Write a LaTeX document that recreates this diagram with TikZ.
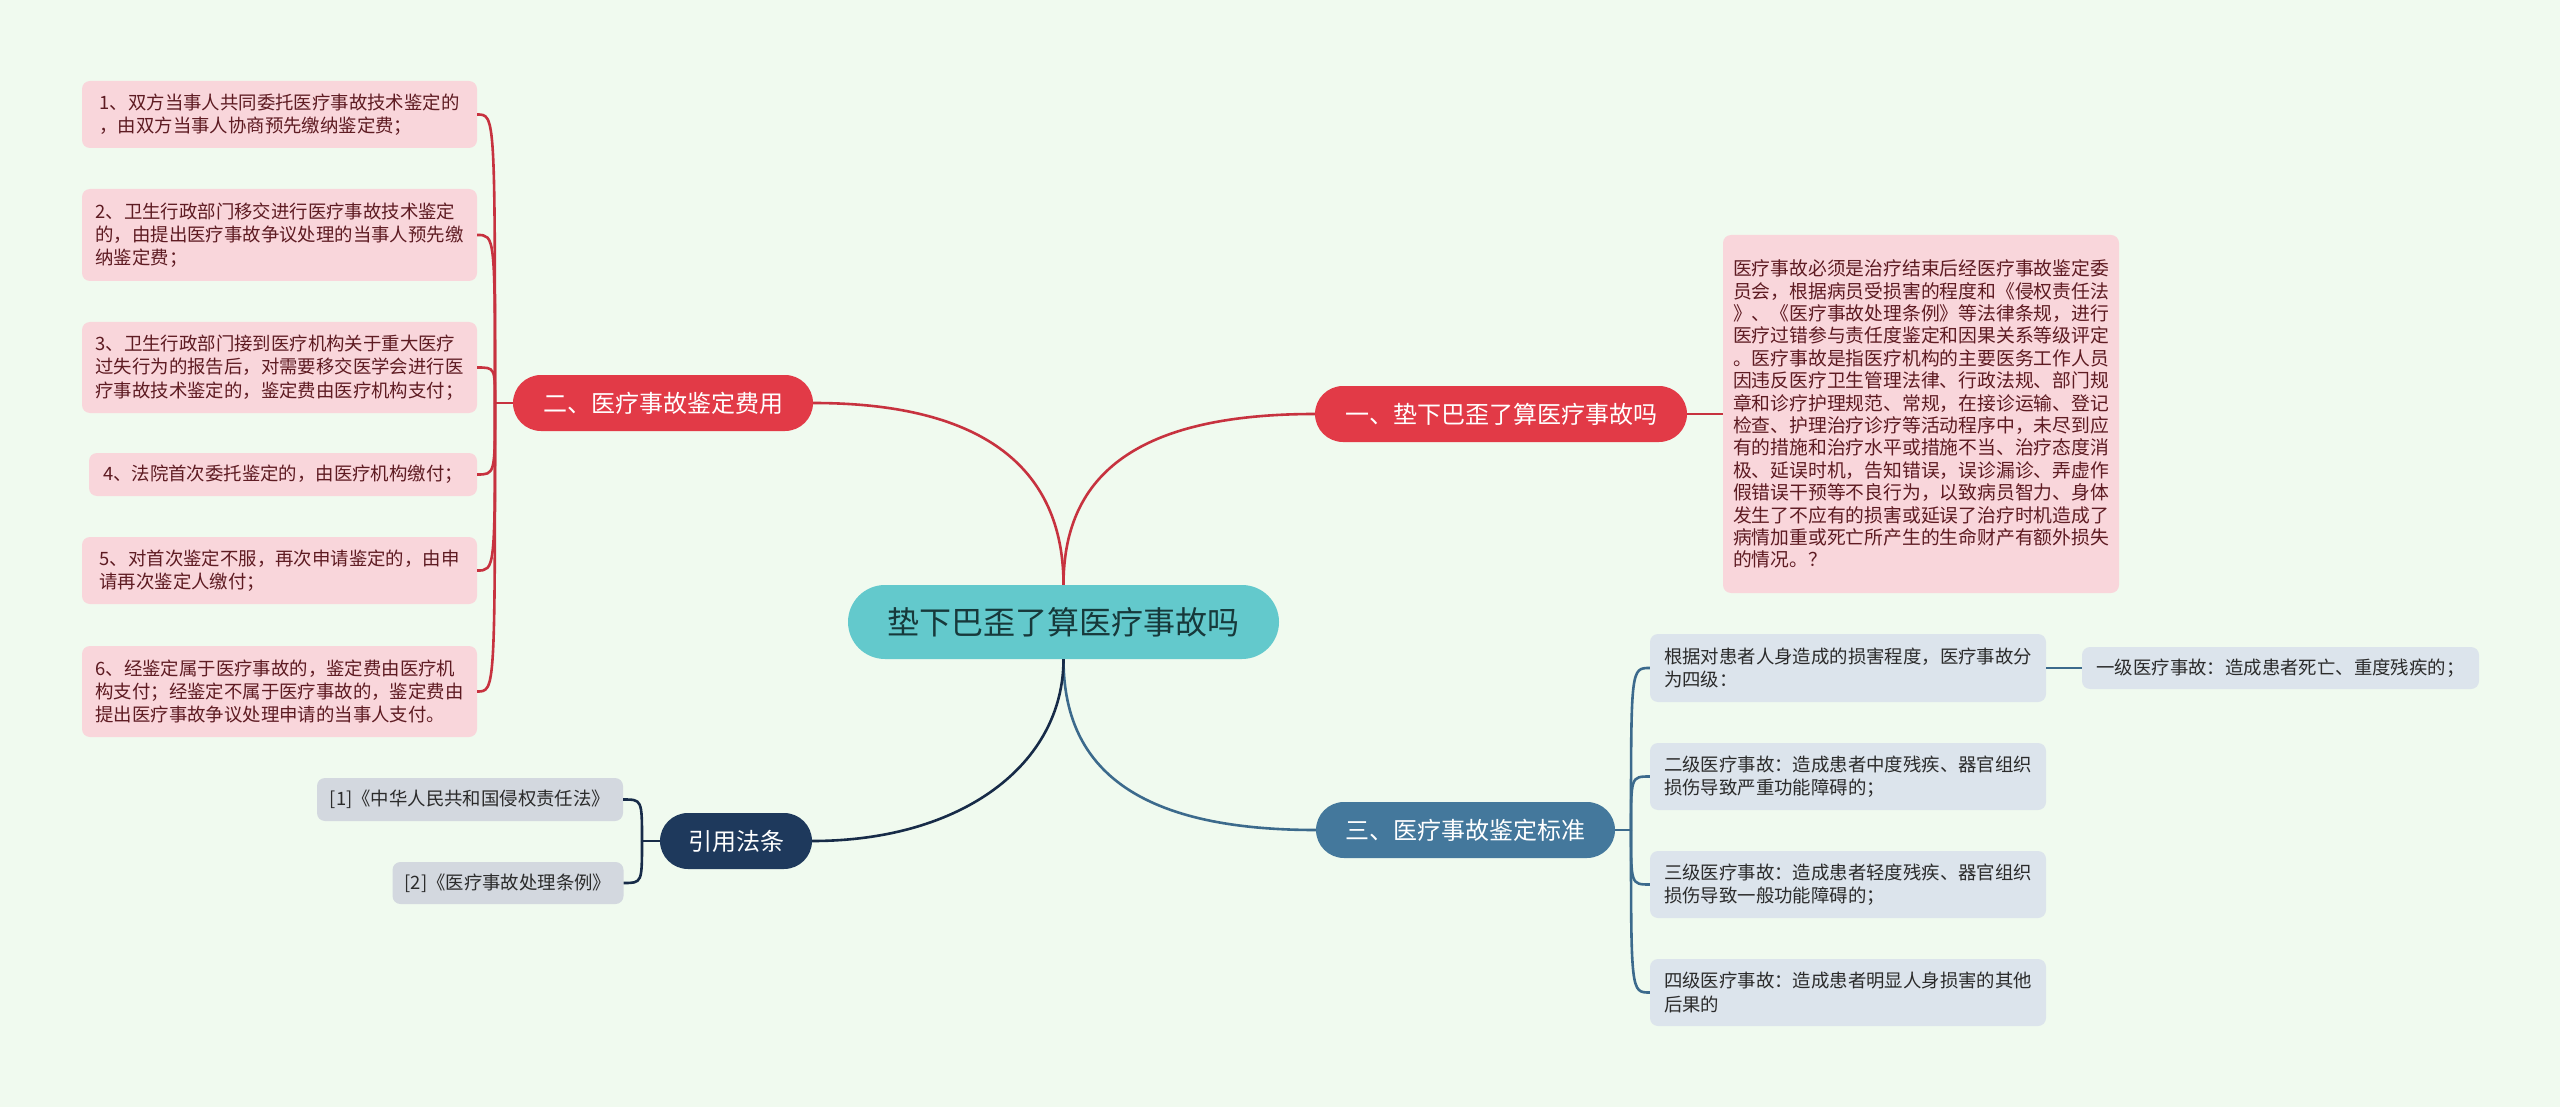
\documentclass[tikz,border=0pt]{standalone}
\usepackage{fontspec}
\setmainfont{Noto Sans CJK SC}
\definecolor{bgcol}{HTML}{F0FAEF}
\definecolor{redline}{HTML}{C7323F}
\definecolor{redfill}{HTML}{E23A47}
\definecolor{pinkfill}{HTML}{F9D6DB}
\definecolor{pinktext}{HTML}{5E1B22}
\definecolor{tealfill}{HTML}{63C9CC}
\definecolor{tealtext}{HTML}{17393B}
\definecolor{steelfill}{HTML}{44789C}
\definecolor{steelline}{HTML}{3C6A8C}
\definecolor{bluebox}{HTML}{DCE4EC}
\definecolor{navyfill}{HTML}{1E395C}
\definecolor{navyline}{HTML}{172B48}
\definecolor{graybox}{HTML}{D3D8DF}
\definecolor{darktext}{HTML}{2B2B2B}
\begin{document}
\begin{tikzpicture}[x=1pt,y=-1pt]
  \tikzset{
    central/.style={fill=tealfill, text=tealtext, rounded corners=37pt, minimum width=431pt, minimum height=74pt, inner sep=0pt, font=\fontsize{32}{36}\selectfont},
    topic/.style={rounded corners=28pt, minimum height=56pt, inner sep=0pt, text=white, font=\fontsize{24}{28}\selectfont},
    redtopic/.style={topic, fill=redfill},
    steeltopic/.style={topic, fill=steelfill},
    navytopic/.style={topic, fill=navyfill},
    leaf/.style={rounded corners=8pt, inner sep=0pt, align=left, font=\fontsize{18.4}{23.3}\selectfont},
    pinkbox/.style={leaf, fill=pinkfill, text=pinktext},
    bluebox/.style={leaf, fill=bluebox, text=darktext},
    graybox/.style={leaf, fill=graybox, text=darktext},
    redlink/.style={draw=redline, line width=2.6pt},
    steellink/.style={draw=steelline, line width=2.6pt},
    navylink/.style={draw=navyline, line width=2.6pt}
  }
  \fill[bgcol] (0,0) rectangle (2560,1107);
  \useasboundingbox (0,0) rectangle (2560,1107);

  % root and main branches
  \node[central] (root) at (1063.5,622) {垫下巴歪了算医疗事故吗};
  \node[redtopic, minimum width=372pt] (yi) at (1501,414) {一、垫下巴歪了算医疗事故吗};
  \node[redtopic, minimum width=300pt] (er) at (663,403) {二、医疗事故鉴定费用};
  \node[steeltopic, minimum width=299pt] (san) at (1465.5,830) {三、医疗事故鉴定标准};
  \node[navytopic, minimum width=152pt] (law) at (736,841) {引用法条};

  \draw[redlink] (root.north) .. controls +(0,-105) and +(-185,0) .. (yi.west);
  \draw[redlink] (root.north) .. controls +(0,-105) and +(185,0) .. (er.east);
  \draw[steellink] (root.south) .. controls +(0,105) and +(-185,0) .. (san.west);
  \draw[navylink] (root.south) .. controls +(0,105) and +(150,0) .. (law.east);

  % branch one
  \node[pinkbox, minimum width=396pt, minimum height=358pt, font=\fontsize{18.8}{22.4}\selectfont] (yidesc) at (1921,414) {医疗事故必须是治疗结束后经医疗事故鉴定委\\员会，根据病员受损害的程度和《侵权责任法\\》、《医疗事故处理条例》等法律条规，进行\\医疗过错参与责任度鉴定和因果关系等级评定\\。医疗事故是指医疗机构的主要医务工作人员\\因违反医疗卫生管理法律、行政法规、部门规\\章和诊疗护理规范、常规，在接诊运输、登记\\检查、护理治疗诊疗等活动程序中，未尽到应\\有的措施和治疗水平或措施不当、治疗态度消\\极、延误时机，告知错误，误诊漏诊、弄虚作\\假错误干预等不良行为，以致病员智力、身体\\发生了不应有的损害或延误了治疗时机造成了\\病情加重或死亡所产生的生命财产有额外损失\\的情况。？};
  \draw[redlink] (yi.east) -- (yidesc.west);

  % branch two
  \node[pinkbox, minimum width=395pt, minimum height=67pt] (fee1) at (279.5,114.5) {1、双方当事人共同委托医疗事故技术鉴定的\\，由双方当事人协商预先缴纳鉴定费；};
  \node[pinkbox, minimum width=395pt, minimum height=92pt] (fee2) at (279.5,235) {2、卫生行政部门移交进行医疗事故技术鉴定\\的，由提出医疗事故争议处理的当事人预先缴\\纳鉴定费；};
  \node[pinkbox, minimum width=395pt, minimum height=91pt] (fee3) at (279.5,367.5) {3、卫生行政部门接到医疗机构关于重大医疗\\过失行为的报告后，对需要移交医学会进行医\\疗事故技术鉴定的，鉴定费由医疗机构支付；};
  \node[pinkbox, minimum width=388pt, minimum height=43pt] (fee4) at (283,474.5) {4、法院首次委托鉴定的，由医疗机构缴付；};
  \node[pinkbox, minimum width=395pt, minimum height=67pt] (fee5) at (279.5,570.5) {5、对首次鉴定不服，再次申请鉴定的，由申\\请再次鉴定人缴付；};
  \node[pinkbox, minimum width=395pt, minimum height=91pt] (fee6) at (279.5,691.5) {6、经鉴定属于医疗事故的，鉴定费由医疗机\\构支付；经鉴定不属于医疗事故的，鉴定费由\\提出医疗事故争议处理申请的当事人支付。};
  \coordinate (erfork) at (495,403);
  \draw[redlink] (er.west) -- (erfork);
  \foreach \k in {1,...,6}
    \draw[redlink] (erfork) .. controls (erfork |- fee\k.east) .. (fee\k.east);

  % branch three
  \node[bluebox, minimum width=396pt, minimum height=68pt] (std1) at (1848,668) {根据对患者人身造成的损害程度，医疗事故分\\为四级：};
  \node[bluebox, minimum width=397pt, minimum height=42pt] (grade1) at (2280.5,668) {一级医疗事故：造成患者死亡、重度残疾的；};
  \node[bluebox, minimum width=396pt, minimum height=67pt] (std2) at (1848,776.5) {二级医疗事故：造成患者中度残疾、器官组织\\损伤导致严重功能障碍的；};
  \node[bluebox, minimum width=396pt, minimum height=67pt] (std3) at (1848,884.5) {三级医疗事故：造成患者轻度残疾、器官组织\\损伤导致一般功能障碍的；};
  \node[bluebox, minimum width=396pt, minimum height=67pt] (std4) at (1848,992.5) {四级医疗事故：造成患者明显人身损害的其他\\后果的};
  \coordinate (sanfork) at (1631,830);
  \draw[steellink] (san.east) -- (sanfork);
  \foreach \k in {1,...,4}
    \draw[steellink] (sanfork) .. controls (sanfork |- std\k.west) .. (std\k.west);
  \draw[steellink] (std1.east) -- (grade1.west);

  % references
  \node[graybox, minimum width=306pt, minimum height=43pt] (law1) at (470,799.5) {[1]《中华人民共和国侵权责任法》};
  \node[graybox, minimum width=231pt, minimum height=42pt] (law2) at (508,883) {[2]《医疗事故处理条例》};
  \coordinate (lawfork) at (642,841);
  \draw[navylink] (law.west) -- (lawfork);
  \foreach \k in {1,2}
    \draw[navylink] (lawfork) .. controls (lawfork |- law\k.east) .. (law\k.east);
\end{tikzpicture}
\end{document}
